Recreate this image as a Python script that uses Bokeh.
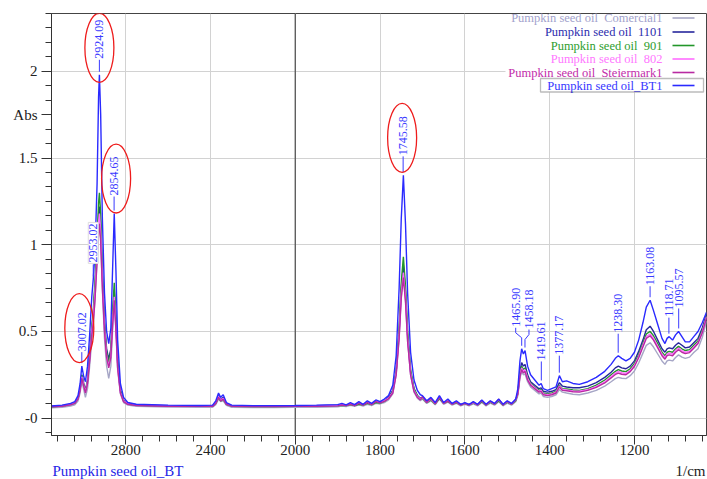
import numpy as np
from bokeh.plotting import figure
from bokeh.layouts import column
from bokeh.models import Range1d, FixedTicker, Label, BoxAnnotation, Span
from bokeh.embed import file_html
from bokeh.resources import INLINE

# ---------------- data ----------------
WAVENUMBER = [
    3150, 3100, 3060, 3040, 3025, 3015, 3007, 2998, 2990, 2980,
    2970, 2960, 2953, 2945, 2935, 2928, 2924, 2918, 2910, 2900,
    2890, 2880, 2870, 2862, 2854, 2846, 2838, 2825, 2810, 2790,
    2750, 2600, 2450, 2390, 2375, 2362, 2352, 2340, 2325, 2300,
    2200, 2100,
    2000, 1950, 1900, 1890, 1880, 1870, 1860, 1850, 1840, 1830,
    1820, 1810, 1800, 1790, 1780, 1770, 1762, 1755, 1750, 1745,
    1740, 1735, 1728, 1720, 1712, 1705,
    1700, 1690, 1680, 1670, 1660, 1650, 1640, 1630, 1620, 1610,
    1600, 1590, 1580, 1570, 1560, 1550, 1540, 1530, 1520, 1510,
    1500, 1490, 1480,
    1475, 1470, 1466, 1462, 1458, 1452, 1445, 1435, 1425, 1420,
    1415, 1405, 1395, 1385, 1377, 1370, 1360, 1345, 1330, 1310,
    1290, 1270, 1255, 1245, 1238, 1230, 1220, 1210, 1200, 1190,
    1180, 1172, 1163, 1155, 1145, 1135, 1128, 1123, 1118, 1110,
    1103, 1096, 1088, 1080, 1070, 1060, 1050, 1040, 1030,
]

BT1 = [
    .070, .075, .085, .095, .13, .20, .30, .24, .21, .30,
    .48, .70, .80, .95, 1.35, 1.85, 1.98, 1.75, 1.15, .72,
    .50, .43, .52, .85, 1.18, .85, .45, .20, .12, .09,
    .08, .075, .073, .075, .10, .145, .12, .135, .09, .075,
    .072, .072,
    .073, .075, .078, .085, .077, .090, .078, .095, .080, .100,
    .085, .105, .095, .110, .130, .19, .36, .75, 1.15, 1.40,
    1.12, .72, .38, .22, .16, .135,
    .13, .10, .12, .09, .13, .09, .11, .085, .10, .08,
    .09, .08, .095, .08, .105, .08, .10, .085, .11, .08,
    .10, .085, .11,
    .17, .33, .40, .37, .39, .30, .25, .22, .19, .20,
    .17, .16, .17, .18, .245, .21, .215, .20, .195, .21,
    .235, .27, .31, .345, .36, .345, .33, .345, .38, .45,
    .55, .64, .68, .62, .54, .46, .43, .46, .47, .45,
    .48, .50, .47, .44, .44, .47, .50, .55, .61,
]

OIL_1101 = [
    .068, .072, .080, .088, .115, .17, .25, .20, .16, .22,
    .36, .52, .60, .75, .98, 1.18, 1.22, 1.12, .82, .55,
    .40, .34, .40, .58, .74, .56, .32, .16, .105, .085,
    .076, .072, .070, .071, .090, .130, .110, .120, .085, .072,
    .070, .070,
    .071, .072, .074, .078, .075, .082, .076, .085, .078, .090,
    .082, .095, .090, .100, .120, .16, .27, .50, .75, .88,
    .73, .48, .27, .17, .13, .115,
    .12, .095, .11, .085, .12, .088, .10, .082, .095, .078,
    .087, .078, .09, .078, .10, .078, .095, .082, .105, .078,
    .095, .082, .105,
    .15, .27, .32, .30, .31, .25, .21, .19, .17, .175,
    .155, .15, .155, .165, .205, .185, .18, .175, .175, .185,
    .205, .235, .265, .29, .30, .29, .285, .30, .33, .385,
    .45, .51, .53, .50, .45, .40, .38, .40, .405, .40,
    .42, .435, .42, .405, .41, .435, .46, .52, .60,
]

OIL_901 = [
    .066, .070, .078, .086, .112, .168, .25, .195, .155, .215,
    .35, .52, .62, .78, 1.02, 1.24, 1.30, 1.18, .85, .55,
    .38, .32, .39, .60, .78, .58, .33, .16, .10, .082,
    .074, .070, .068, .069, .085, .120, .100, .110, .080, .069,
    .067, .067,
    .068, .069, .071, .074, .072, .078, .073, .080, .075, .085,
    .078, .090, .087, .097, .115, .155, .27, .52, .78, .93,
    .76, .50, .28, .17, .13, .11,
    .115, .09, .105, .082, .115, .085, .097, .08, .09, .076,
    .084, .076, .087, .076, .095, .076, .092, .08, .10, .076,
    .092, .08, .10,
    .14, .26, .30, .28, .29, .235, .20, .18, .16, .165,
    .145, .14, .145, .155, .19, .17, .168, .162, .16, .17,
    .19, .22, .25, .27, .28, .272, .268, .285, .315, .365,
    .43, .485, .50, .475, .43, .38, .36, .38, .385, .38,
    .40, .415, .40, .39, .395, .42, .445, .505, .59,
]

OIL_802 = [
    .068, .071, .079, .087, .112, .165, .24, .19, .15, .21,
    .34, .50, .58, .72, .95, 1.13, 1.18, 1.08, .79, .52,
    .36, .30, .36, .55, .70, .53, .30, .15, .10, .083,
    .075, .071, .070, .070, .088, .125, .105, .115, .082, .071,
    .069, .069,
    .070, .071, .073, .080, .074, .085, .075, .090, .077, .095,
    .080, .100, .090, .100, .115, .15, .26, .48, .72, .84,
    .70, .46, .26, .16, .125, .11,
    .12, .092, .11, .084, .125, .087, .10, .081, .094, .077,
    .086, .077, .09, .077, .10, .077, .096, .081, .107, .077,
    .096, .081, .105,
    .14, .25, .29, .27, .28, .23, .195, .175, .155, .16,
    .14, .135, .14, .15, .185, .165, .163, .157, .155, .165,
    .183, .21, .24, .26, .27, .262, .258, .275, .305, .355,
    .42, .47, .485, .46, .415, .37, .35, .37, .375, .37,
    .39, .405, .39, .38, .385, .41, .435, .498, .585,
]

STEIERMARK1 = [
    .066, .069, .077, .085, .110, .160, .23, .185, .145, .20,
    .33, .48, .55, .68, .90, 1.07, 1.12, 1.02, .75, .50,
    .35, .29, .35, .53, .68, .51, .29, .145, .095, .080,
    .073, .069, .068, .068, .085, .120, .100, .110, .080, .069,
    .067, .067,
    .068, .069, .071, .076, .072, .080, .073, .085, .075, .090,
    .078, .095, .088, .097, .112, .145, .25, .46, .69, .81,
    .67, .44, .25, .155, .12, .105,
    .125, .09, .115, .082, .12, .085, .098, .08, .092, .076,
    .085, .076, .092, .076, .102, .076, .098, .08, .11, .076,
    .098, .08, .107,
    .14, .24, .28, .26, .27, .22, .19, .17, .15, .155,
    .135, .13, .135, .145, .18, .16, .158, .152, .15, .16,
    .177, .203, .232, .252, .26, .253, .25, .268, .298, .348,
    .41, .46, .475, .45, .405, .36, .34, .36, .365, .36,
    .38, .395, .38, .372, .378, .403, .43, .492, .58,
]

COMERCIAL1 = [
    .060, .063, .070, .077, .098, .145, .215, .165, .12, .17,
    .30, .45, .53, .68, .92, 1.10, 1.15, 1.04, .74, .46,
    .30, .23, .30, .50, .68, .50, .28, .14, .09, .075,
    .068, .064, .062, .063, .078, .110, .095, .100, .074, .063,
    .061, .061,
    .062, .063, .066, .070, .067, .074, .068, .077, .070, .080,
    .073, .085, .082, .090, .105, .14, .25, .47, .70, .83,
    .68, .45, .25, .15, .115, .10,
    .11, .085, .10, .077, .11, .08, .092, .075, .086, .071,
    .079, .071, .083, .071, .09, .071, .087, .075, .095, .071,
    .087, .075, .095,
    .13, .23, .27, .25, .255, .21, .18, .16, .14, .145,
    .125, .12, .125, .135, .165, .15, .145, .138, .135, .145,
    .16, .185, .21, .228, .235, .23, .228, .245, .272, .318,
    .375, .42, .435, .41, .37, .33, .31, .33, .335, .33,
    .35, .365, .352, .345, .352, .378, .40, .465, .56,
]

SERIES_NAMES = ["Pumpkin seed oil\u00a0 Comercial1", "Pumpkin seed oil\u00a0 1101",
                "Pumpkin seed oil\u00a0 901", "Pumpkin seed oil\u00a0 802",
                "Pumpkin seed oil\u00a0 Steiermark1", "Pumpkin seed oil_BT1"]
SERIES_VALUES = [COMERCIAL1, OIL_1101, OIL_901, OIL_802, STEIERMARK1, BT1]

PEAK_LABELS = ["3007.02", "2953.02", "2924.09", "2854.65", "1745.58", "1465.90",
               "1458.18", "1419.61", "1377.17", "1238.30", "1163.08", "1118.71", "1095.57"]

X_TICKS = [2800, 2400, 2000, 1800, 1600, 1400, 1200]
Y_TICKS = [0, 0.5, 1, 1.5, 2]
Y_TICK_LABELS = ["-0", "0.5", "1", "1.5", "2"]
Y_TITLE = "Abs"
Y_TITLE_AT = 1.75
X_UNIT = "1/cm"
SAMPLE_NAME = "Pumpkin seed oil_BT"

# ---------------- styles / layout ----------------
LINE_COLORS = ["#a6a6c6", "#26269c", "#22962a", "#ff6cff", "#b82aa2", "#2a2aff"]
TEXT_COLORS = ["#a2a2cc", "#2c2cae", "#2e9e2e", "#ff78ff", "#c22caa", "#3636ff"]
LABEL_BLUE = "#3a3aff"
FONT = "Liberation Serif"

# label layout: (dx px, gap px above peak)
LABEL_LAYOUT = [(0, 14), (0, 15), (0, 15), (0, 17), (0, 19), (-6, 21), (4, 21),
                (0, 22), (0, 20), (0, 22), (0, 14), (0, 19), (0, 23)]
# ellipses: (label, dx px, up px)
ELLIPSES = [("3007.02", -2.5, 38), ("2924.09", 0, 27), ("2854.65", 2, 35), ("1745.58", -1, 37.5)]


def to_u(w):
    w = np.asarray(w, dtype=float)
    return np.where(w > 2000, 2000 + (w - 2000) / 2.0, w)


U0, U1 = float(to_u(3150)), 1030.0
Y0, Y1 = -0.1, 7.0 / 3.0

# frame position on canvas (px)
FL, FW, FT, FH = 51, 655, 13, 422
UPX = (U0 - U1) / FW
VPX = (Y1 - Y0) / FH


def ux(px):
    return U0 - (px - FL) * UPX


def vy(py):
    return Y1 - (py - FT) * VPX


p = figure(width=707, height=462, output_backend="svg", toolbar_location=None,
           x_range=Range1d(U0, U1), y_range=Range1d(Y0, Y1),
           min_border_left=51, min_border_right=1, min_border_top=13, min_border_bottom=27)
p.background_fill_color = "white"
p.border_fill_color = "white"
p.outline_line_color = "#444444"
p.outline_line_width = 1

xt = [float(to_u(t)) for t in X_TICKS]
p.xaxis.ticker = FixedTicker(ticks=xt, minor_ticks=list(range(1040, 2575, 40)))
p.xaxis.major_label_overrides = {u: str(t) for u, t in zip(xt, X_TICKS)}
ylab = {float(t): s for t, s in zip(Y_TICKS, Y_TICK_LABELS)}
ylab[Y_TITLE_AT] = Y_TITLE
p.yaxis.ticker = FixedTicker(ticks=sorted(ylab.keys()), minor_ticks=[k / 12 for k in range(-1, 29)])
p.yaxis.major_label_overrides = ylab

for ax in (p.xaxis, p.yaxis):
    ax.axis_line_color = "#333333"
    ax.major_tick_line_color = "#333333"
    ax.minor_tick_line_color = "#333333"
    ax.major_tick_out = 10
    ax.major_tick_in = 0
    ax.minor_tick_out = 6
    ax.minor_tick_in = 0
    ax.major_label_text_font = FONT
    ax.major_label_text_font_size = "15px"
    ax.major_label_text_color = "#222222"
p.xaxis.major_tick_out = 9
p.xaxis.major_label_standoff = 0
p.yaxis.major_label_standoff = 4

p.xgrid.ticker = FixedTicker(ticks=xt)
p.ygrid.ticker = FixedTicker(ticks=Y_TICKS)
p.grid.grid_line_color = "#d2d2d2"
p.grid.grid_line_width = 1

p.add_layout(Span(location=2000, dimension="height", line_color="#555555",
                  line_width=1.3, level="underlay"))

u_all = to_u(WAVENUMBER)
for vals, col in zip(SERIES_VALUES, LINE_COLORS):
    p.line(u_all, vals, line_color=col, line_width=1.4)

# peak labels
wn = np.array(WAVENUMBER, dtype=float)
bt = np.array(BT1, dtype=float)
peak_pos = {}
lx, ly = [], []
for txt, (dxp, gap) in zip(PEAK_LABELS, LABEL_LAYOUT):
    w = float(txt)
    u = float(to_u(w))
    v = float(bt[np.abs(wn - w) <= 6].max())
    peak_pos[txt] = (u, v)
    xl = u - dxp * UPX
    if dxp == 0:
        lx.append([u, u])
        ly.append([v + 3 * VPX, v + gap * VPX])
    else:
        lx.append([u, u, xl, xl])
        ly.append([v + 3 * VPX, v + (gap - 10) * VPX, v + (gap - 5) * VPX, v + gap * VPX])
    extra = {}
    if txt == "2953.02":
        extra = dict(background_fill_color="white", border_line_color="#dddddd", padding=1)
    p.add_layout(Label(x=xl, y=v + (gap + 1) * VPX, text=txt, angle=np.pi / 2,
                       text_align="left", text_baseline="middle", text_font=FONT,
                       text_font_size="12px", text_color=LABEL_BLUE, **extra))
p.multi_line(lx, ly, line_color=LABEL_BLUE, line_width=1)

# red ellipses
ex, ey = [], []
for txt, dxp, up in ELLIPSES:
    u, v = peak_pos[txt]
    ex.append(u - dxp * UPX)
    ey.append(v + up * VPX)
p.ellipse(x=ex, y=ey, width=29, height=69, width_units="screen", height_units="screen",
          fill_alpha=0, line_color="#ee1c1c", line_width=1.3)

# legend (drawn manually: text on the left, line sample on the right)
p.add_layout(BoxAnnotation(left=ux(505), right=ux(705), top=vy(13.5), bottom=vy(92),
                           fill_color="white", fill_alpha=1, line_alpha=0))
LEG_Y = [17.5, 31.5, 45, 58.5, 72, 85]
for name, lc, tc, yy in zip(SERIES_NAMES, LINE_COLORS, TEXT_COLORS, LEG_Y):
    p.add_layout(Label(x=ux(662), y=vy(yy), text=name, text_align="right",
                       text_baseline="middle", text_font=FONT, text_font_size="12.5px",
                       text_color=tc))
    p.segment(x0=[ux(672)], y0=[vy(yy)], x1=[ux(694)], y1=[vy(yy)], line_color=lc,
              line_width=1.6, level="overlay")
p.add_layout(BoxAnnotation(left=ux(540), right=ux(703), top=vy(78), bottom=vy(91.5),
                           fill_alpha=0, line_color="#222222", line_width=1.3))

# bottom strip with the sample name and the unit (frame aligned with the main plot)
p2 = figure(width=707, height=17, output_backend="svg", toolbar_location=None,
            x_range=Range1d(FL, FL + FW), y_range=Range1d(0, 17),
            min_border_left=FL, min_border_right=707 - FL - FW, min_border_top=0,
            min_border_bottom=0, x_axis_type=None, y_axis_type=None)
p2.outline_line_color = None
p2.grid.visible = False
p2.background_fill_color = "white"
p2.border_fill_color = "white"
p2.add_layout(Label(x=52, y=8.5, text=SAMPLE_NAME, text_align="left",
                    text_baseline="middle", text_font=FONT, text_font_size="15px",
                    text_color="#2626e6"))
p2.add_layout(Label(x=705, y=8.5, text=X_UNIT, text_align="right",
                    text_baseline="middle", text_font=FONT, text_font_size="15px",
                    text_color="#222222"))

layout = column(p, p2, spacing=0)
open("out.html", "w").write(file_html(layout, INLINE))
